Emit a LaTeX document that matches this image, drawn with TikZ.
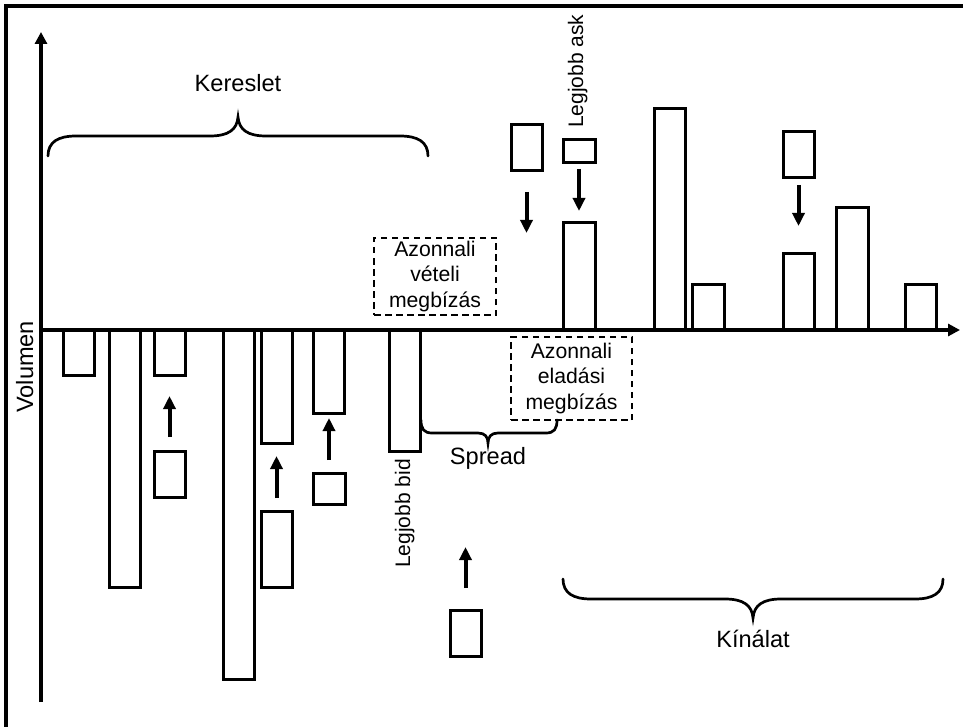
\documentclass[tikz,border=0pt]{standalone}
\usepackage{fontspec}
\setmainfont{Liberation Sans}
\usetikzlibrary{arrows.meta}
\begin{document}
\begin{tikzpicture}[x=1pt,y=-1pt,
  bar/.style={draw, line width=3pt, inner sep=0pt, outer sep=0pt},
  axisline/.style={line width=4pt, -{Triangle[width=12pt,length=12pt]}},
  arr/.style={line width=4pt, -{Triangle[width=12pt,length=13pt]}},
  bracepath/.style={line width=2.7pt, line cap=round},
  dashbox/.style={draw, line width=2.6pt, dash pattern=on 6.5pt off 4.5pt, inner sep=0pt, outer sep=0pt, align=center,
    font=\fontsize{21.2}{25.5}\selectfont},
  biglabel/.style={inner sep=0pt, anchor=base, font=\fontsize{23.6}{27}\selectfont},
  sidelabel/.style={inner sep=0pt, anchor=base west, rotate=90, font=\fontsize{21}{25}\selectfont}
]
\useasboundingbox (0,0) rectangle (963,727);
% frame
\draw[line width=4pt] (6,727) -- (6,6) -- (963,6);
% axes
\coordinate (o) at (41,330);
\coordinate (ytop) at (41,32);
\coordinate (ybot) at (41,702);
\coordinate (xend) at (960,330);
\draw[axisline] (ybot) -- (ytop);
\draw[axisline] (o) -- (xend);
% demand bars
\node[bar, anchor=north west, minimum width=31pt, minimum height=45pt]  (d1) at (63,330) {};
\node[bar, anchor=north west, minimum width=31pt, minimum height=257pt] (d2) at (109,330) {};
\node[bar, anchor=north west, minimum width=31pt, minimum height=45pt]  (d3) at (154,330) {};
\node[bar, anchor=north west, minimum width=31pt, minimum height=349pt] (d4) at (223,330) {};
\node[bar, anchor=north west, minimum width=31pt, minimum height=113pt] (d5) at (261,330) {};
\node[bar, anchor=north west, minimum width=31pt, minimum height=83pt]  (d6) at (313,330) {};
\node[bar, anchor=north west, minimum width=31pt, minimum height=121pt] (d7) at (389,330) {};
% incoming buy orders
\node[bar, anchor=north west, minimum width=31pt, minimum height=46pt] (b1) at (154,451) {};
\node[bar, anchor=north west, minimum width=31pt, minimum height=76pt] (b2) at (261,511) {};
\node[bar, anchor=north west, minimum width=32pt, minimum height=31pt] (b3) at (313,473) {};
\node[bar, anchor=north west, minimum width=31pt, minimum height=46pt] (b4) at (450,610) {};
% supply bars
\node[bar, anchor=south west, minimum width=32pt, minimum height=107pt] (s1) at (563,330) {};
\node[bar, anchor=south west, minimum width=31pt, minimum height=221pt] (s2) at (654,330) {};
\node[bar, anchor=south west, minimum width=32pt, minimum height=46pt]  (s3) at (692,330) {};
\node[bar, anchor=south west, minimum width=31pt, minimum height=76pt]  (s4) at (783,330) {};
\node[bar, anchor=south west, minimum width=32pt, minimum height=122pt] (s5) at (836,330) {};
\node[bar, anchor=south west, minimum width=31pt, minimum height=46pt]  (s6) at (905,330) {};
% incoming sell orders
\node[bar, anchor=north west, minimum width=31pt, minimum height=46pt] (c1) at (511,125) {};
\node[bar, anchor=north west, minimum width=32pt, minimum height=23pt] (c2) at (563,140) {};
\node[bar, anchor=north west, minimum width=31pt, minimum height=46pt] (c3) at (783,132) {};
% arrows
\coordinate (t4) at (465.5,547);
\coordinate (t1) at (526.5,233);
\draw[arr, shorten <=14pt, shorten >=21pt] (b1.north) -- (d3.south);
\draw[arr, shorten <=13pt, shorten >=13pt] (b2.north) -- (d5.south);
\draw[arr, shorten <=13pt, shorten >=5pt]  (b3.north) -- (b3.north |- d6.south);
\draw[arr, shorten <=22pt] (b4.north) -- (t4);
\draw[arr, shorten <=21pt] (c1.south) -- (t1);
\draw[arr, shorten <=6pt, shorten >=12pt] (c2.south) -- (s1.north);
\draw[arr, shorten <=7pt, shorten >=28pt] (c3.south) -- (s4.north);
% market order boxes
\node[dashbox, minimum width=122pt, minimum height=77pt] (buy) at (435,276.5) {Azonnali\\vételi\\megbízás};
\node[dashbox, minimum width=121pt, minimum height=83pt] (sell) at (571.5,378.5) {Azonnali\\eladási\\megbízás};
% braces
\draw[bracepath] (48,156) .. controls (48,142) and (58,136) .. (76,136) -- (210,136)
  .. controls (228,136) and (237,130) .. (238,117)
  .. controls (239,130) and (248,136) .. (266,136) -- (400,136)
  .. controls (418,136) and (428,142) .. (428,156);
\draw[bracepath] (421,420) .. controls (421,429) and (424,433) .. (432,433) -- (478,433)
  .. controls (485,433) and (488,437) .. (488,443)
  .. controls (488,437) and (491,433) .. (498,433) -- (546,433)
  .. controls (554,433) and (557,429) .. (557,420);
\draw[bracepath] (563,579) .. controls (563,593) and (573,599) .. (591,599) -- (725,599)
  .. controls (743,599) and (752,605) .. (753,618)
  .. controls (754,605) and (763,599) .. (781,599) -- (915,599)
  .. controls (933,599) and (943,593) .. (943,579);
% labels
\node[biglabel] (kereslet) at (238,92) {Kereslet};
\node[biglabel] (spread) at (488,464) {Spread};
\node[biglabel] (kinalat) at (753,647) {Kínálat};
\node[sidelabel] (ask) at (583,128) {Legjobb ask};
\node[sidelabel] (bid) at (410,568) {Legjobb bid};
\node[sidelabel, font=\fontsize{23.6}{27}\selectfont] (vol) at (33,413) {Volumen};
\end{tikzpicture}
\end{document}
